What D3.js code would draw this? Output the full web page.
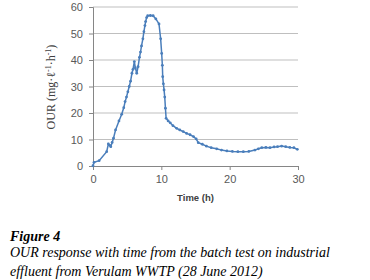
<!DOCTYPE html>
<html>
<head>
<meta charset="utf-8">
<script src="https://cdn.jsdelivr.net/npm/d3@7"></script>
<style>
  body { margin: 0; background: #fff; }
  svg { display: block; }
</style>
</head>
<body>
<div class="vis-our"></div>
<script>
// time in hours
const timeH = [0, 0.15, 0.9, 2.0, 2.25, 2.45, 2.6, 2.8, 3.0, 3.3, 3.8, 4.2, 4.5, 4.7, 4.9, 5.1, 5.3, 5.5, 5.7, 5.85,
  6.05, 6.2, 6.4, 6.6, 6.8, 6.95, 7.1, 7.3, 7.45, 7.6, 7.7, 7.85, 8.0, 8.4, 8.8, 9.2, 9.66, 9.9, 10.05, 10.15,
  10.2, 10.3, 10.4, 10.5, 10.6, 10.7, 11.0, 11.3, 11.7, 12.25, 12.7, 13.2, 13.7, 14.2, 14.7, 15.1, 15.4, 16.0,
  16.6, 17.3, 18.1, 18.8, 19.6, 20.4, 21.2, 22.0, 22.8, 23.7, 24.2, 24.7, 25.3, 25.9, 26.5, 27.0, 27.6, 28.2,
  28.8, 29.4, 29.9];
// OUR in mg/l/h
const ourVals = [0.1, 1.4, 2.0, 5.4, 8.3, 7.8, 7.3, 8.9, 10.5, 13.6, 17, 19.5, 22, 24.3, 26, 28, 30, 32, 35, 36.5,
  39.4, 37, 35, 37.5, 41, 43, 45.3, 48, 50.7, 53, 54.5, 56, 56.7, 56.8, 56.7, 55.5, 53.6, 48, 42.5, 38,
  33.7, 31, 28.7, 26, 21.8, 18, 17, 16.3, 15.2, 14.2, 13.6, 13, 12.3, 11.8, 11.1, 10.2, 8.8, 8.2,
  7.5, 6.9, 6.5, 6, 5.7, 5.5, 5.4, 5.4, 5.5, 6, 6.5, 6.9, 7, 6.9, 7.2, 7.3, 7.5, 7.3,
  7, 6.9, 6.3];
const xTicks = [0, 10, 20, 30];
const yTicks = [0, 10, 20, 30, 40, 50, 60];
const captionTitle = 'Figure 4';
const captionLines = ['OUR response with time from the batch test on industrial',
  'effluent from Verulam WWTP (28 June 2012)'];

const data = timeH.map((t, i) => ({ t: t, v: ourVals[i] }));

const W = 370, H = 280;
const margin = { top: 7, right: 72, bottom: 114, left: 93 };
const width = W - margin.left - margin.right;
const height = H - margin.top - margin.bottom;
const LINE = '#4a7ebb';
const tickFont = '"Liberation Sans", Arial, sans-serif';
const serif = '"Liberation Serif", "Times New Roman", serif';

const root = d3.select('.vis-our').append('svg')
  .attr('width', W).attr('height', H);
const svg = root.append('g')
  .attr('transform', 'translate(' + margin.left + ',' + margin.top + ')');

const x = d3.scaleLinear().domain([0, 30]).range([0, width]);
const y = d3.scaleLinear().domain([0, 60]).range([height, 0]);

// gridlines
svg.append('g').selectAll('line')
  .data(yTicks.filter(d => d > 0))
  .join('line')
  .attr('x1', 0).attr('x2', width)
  .attr('y1', d => y(d)).attr('y2', d => y(d))
  .attr('stroke', '#bfbfbf').attr('stroke-width', 1);

// axes
const yAxis = svg.append('g')
  .call(d3.axisLeft(y).tickValues(yTicks).tickSize(4).tickPadding(6));
const xAxis = svg.append('g')
  .attr('transform', 'translate(0,' + height + ')')
  .call(d3.axisBottom(x).tickValues(xTicks).tickSize(4).tickPadding(5));

[yAxis, xAxis].forEach(ax => {
  ax.select('.domain').attr('stroke', '#868686');
  ax.selectAll('.tick line').attr('stroke', '#868686');
  ax.selectAll('.tick text')
    .attr('fill', '#595959')
    .style('font-family', tickFont)
    .style('font-size', '11px');
});

// line + markers
const lineGen = d3.line()
  .x(d => x(d.t))
  .y(d => y(d.v));
svg.append('path')
  .attr('d', lineGen(data))
  .attr('fill', 'none')
  .attr('stroke', LINE)
  .attr('stroke-width', 1.5);

svg.selectAll('.dot')
  .data(data)
  .join('circle')
  .attr('class', 'dot')
  .attr('cx', d => x(d.t))
  .attr('cy', d => y(d.v))
  .attr('r', 1.4)
  .attr('fill', LINE);

// axis titles
root.append('text')
  .attr('transform', 'translate(55,87) rotate(-90)')
  .attr('text-anchor', 'middle')
  .style('font-family', serif)
  .style('font-size', '12px')
  .attr('fill', '#404040')
  .html('OUR (mg·ℓ<tspan dy="-4" font-size="8px">-1</tspan><tspan dy="4">·h</tspan><tspan dy="-4" font-size="8px">-1</tspan><tspan dy="4">)</tspan>');

root.append('text')
  .attr('x', margin.left + width / 2)
  .attr('y', 201)
  .attr('text-anchor', 'middle')
  .style('font-family', tickFont)
  .style('font-size', '9.5px')
  .style('font-weight', 'bold')
  .attr('fill', '#404040')
  .text('Time (h)');

// caption
root.append('text')
  .attr('x', 10).attr('y', 241)
  .style('font-family', serif)
  .style('font-size', '14px')
  .style('font-weight', 'bold')
  .style('font-style', 'italic')
  .text(captionTitle);

root.selectAll('.cap')
  .data(captionLines)
  .join('text')
  .attr('class', 'cap')
  .attr('x', 10)
  .attr('y', (d, i) => 257 + i * 19)
  .style('font-family', serif)
  .style('font-size', '14px')
  .style('font-style', 'italic')
  .text(d => d);
</script>
</body>
</html>
